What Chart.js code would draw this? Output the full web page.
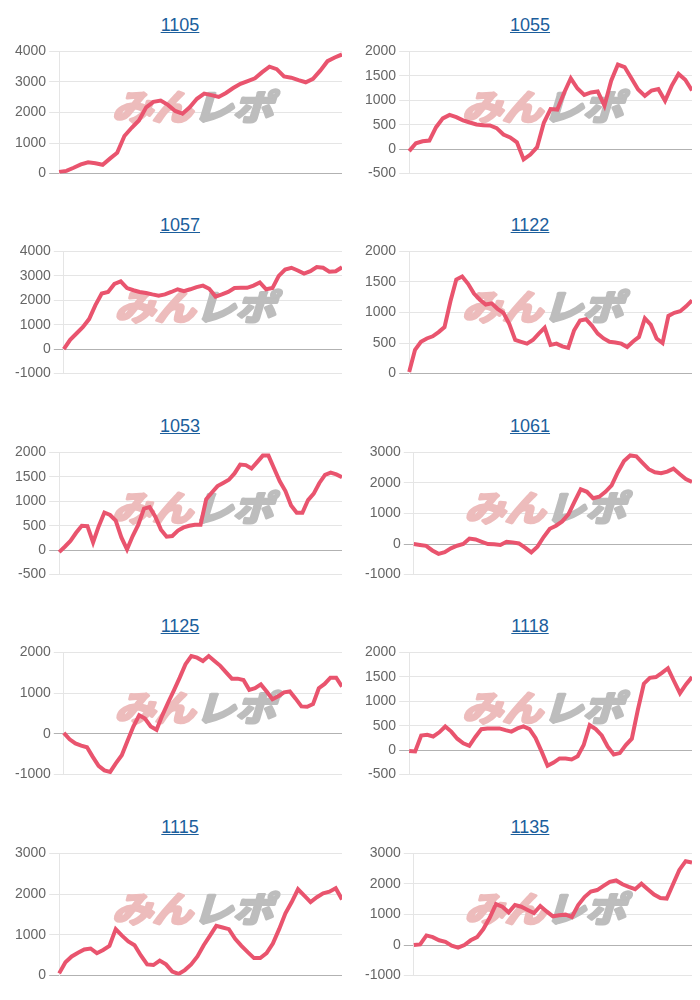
<!DOCTYPE html>
<html>
<head>
<meta charset="utf-8">
<script src="https://cdn.jsdelivr.net/npm/chart.js@4.4.0/dist/chart.umd.min.js"></script>
<style>
body { margin: 0; background: #fff; width: 700px; height: 1000px; position: relative; overflow: hidden; font-family: "Liberation Sans", Arial, sans-serif; }
.cell { position: absolute; width: 350px; height: 200px; }
.cell a { position: absolute; top: 14px; left: 180px; transform: translateX(-50%); font-size: 18px; line-height: 22px; color: #1b5e9c; text-decoration: underline; }
.cell .wrap { position: absolute; top: 40px; left: 12px; width: 330px; height: 145px; }
</style>
</head>
<body>
<script>
const titles = ['1105', '1055', '1057', '1122', '1053', '1061', '1125', '1118', '1115', '1135'];

const d1105 = [50, 90, 190, 300, 370, 340, 290, 490, 680, 1230, 1500, 1740, 2170, 2350, 2390, 2250, 2050, 1960, 2170, 2450, 2620, 2570, 2510, 2640, 2800, 2940, 3030, 3120, 3320, 3500, 3420, 3180, 3140, 3060, 2990, 3100, 3370, 3680, 3800, 3900];
const d1055 = [-40, 120, 160, 175, 450, 630, 700, 655, 590, 545, 505, 490, 485, 430, 300, 240, 140, -210, -110, 40, 540, 820, 810, 1150, 1450, 1240, 1110, 1160, 1180, 890, 1400, 1730, 1680, 1450, 1220, 1090, 1200, 1230, 990, 1300, 1540, 1420, 1200];
const d1057 = [0, 380, 640, 900, 1230, 1800, 2280, 2340, 2670, 2770, 2500, 2410, 2340, 2300, 2240, 2190, 2240, 2340, 2450, 2370, 2450, 2540, 2600, 2470, 2150, 2240, 2340, 2500, 2510, 2510, 2600, 2730, 2450, 2500, 3000, 3260, 3330, 3220, 3090, 3190, 3360, 3330, 3170, 3190, 3350];
const d1122 = [25, 390, 520, 575, 610, 680, 760, 1180, 1540, 1590, 1470, 1310, 1210, 1130, 1150, 1060, 995, 810, 550, 520, 490, 550, 655, 750, 470, 490, 445, 420, 710, 870, 890, 785, 655, 575, 520, 510, 490, 435, 525, 600, 905, 800, 575, 500, 945, 995, 1020, 1100, 1200];
const d1053 = [-40, 70, 190, 355, 500, 490, 160, 490, 770, 720, 605, 260, 15, 290, 520, 850, 880, 685, 420, 275, 290, 400, 465, 500, 520, 520, 1045, 1180, 1310, 1375, 1440, 1570, 1750, 1740, 1670, 1800, 1935, 1935, 1670, 1410, 1210, 915, 765, 765, 1025, 1155, 1375, 1540, 1585, 1550, 1490];
const d1061 = [0, -30, -60, -210, -320, -265, -140, -55, 0, 180, 150, 75, 0, -10, -30, 75, 55, 20, -120, -275, -85, 230, 500, 600, 740, 970, 1390, 1790, 1710, 1500, 1550, 1710, 1920, 2350, 2720, 2900, 2870, 2660, 2450, 2350, 2320, 2370, 2470, 2290, 2130, 2030];
const d1125 = [25, -135, -235, -290, -330, -565, -785, -895, -935, -720, -525, -170, 180, 455, 375, 180, 100, 455, 770, 1070, 1380, 1710, 1910, 1870, 1790, 1910, 1790, 1670, 1510, 1355, 1355, 1320, 1080, 1120, 1215, 1040, 850, 925, 1020, 1040, 865, 675, 665, 730, 1120, 1225, 1380, 1380, 1160];
const d1118 = [-15, -25, 300, 315, 280, 365, 485, 380, 235, 140, 90, 270, 430, 445, 445, 445, 410, 380, 445, 485, 430, 250, -25, -320, -255, -170, -170, -190, -125, 105, 510, 430, 300, 70, -90, -60, 105, 235, 825, 1360, 1480, 1495, 1580, 1675, 1415, 1165, 1345, 1495];
const d1115 = [55, 330, 470, 560, 640, 665, 550, 630, 730, 1140, 980, 840, 745, 495, 275, 260, 370, 275, 100, 40, 135, 275, 470, 745, 980, 1220, 1180, 1140, 905, 730, 575, 430, 430, 550, 785, 1140, 1530, 1805, 2120, 1965, 1805, 1925, 2020, 2060, 2145, 1870];
const d1135 = [0, 20, 315, 260, 155, 105, -20, -85, 0, 155, 260, 525, 890, 1340, 1255, 1070, 1310, 1255, 1150, 1045, 1280, 1100, 940, 975, 995, 920, 1310, 1570, 1750, 1800, 1935, 2070, 2115, 1990, 1905, 1830, 2010, 1830, 1655, 1540, 1520, 1990, 2460, 2745, 2700];

const series = [d1105, d1055, d1057, d1122, d1053, d1061, d1125, d1118, d1115, d1135];
const yMin = [0, -500, -1000, 0, -500, -1000, -1000, -500, 0, -1000];
const yMax = [4000, 2000, 4000, 2000, 2000, 3000, 2000, 2000, 3000, 3000];
const yStep = [1000, 500, 1000, 500, 500, 1000, 1000, 500, 1000, 1000];

// みんレポ logo behind the line
const watermark = {
    id: 'watermark',
    beforeDatasetsDraw(chart) {
        const { ctx, chartArea: a } = chart;
        const cx = (a.left + a.right) / 2 - 4;
        const cy = (a.top + a.bottom) / 2 - 6;
        ctx.save();
        ctx.translate(cx, cy);
        ctx.transform(1.15, 0, -0.3, 1, 0, 0);
        ctx.font = 'bold 35px "Noto Sans CJK JP"';
        ctx.textBaseline = 'middle';
        ctx.textAlign = 'left';
        ctx.lineWidth = 3;
        ctx.lineJoin = 'round';
        const w1 = ctx.measureText('みん').width;
        const w2 = ctx.measureText('レポ').width;
        const x0 = -(w1 + w2) / 2;
        ctx.fillStyle = ctx.strokeStyle = '#edbcbc';
        ctx.strokeText('みん', x0, 0);
        ctx.fillText('みん', x0, 0);
        ctx.fillStyle = ctx.strokeStyle = '#bdbdbd';
        ctx.strokeText('レポ', x0 + w1, 0);
        ctx.fillText('レポ', x0 + w1, 0);
        ctx.restore();
    }
};

series.forEach((values, i) => {
    const col = i % 2;
    const row = Math.floor(i / 2);
    const cell = document.createElement('div');
    cell.className = 'cell';
    cell.style.left = (col * 350) + 'px';
    cell.style.top = Math.round(row * 200.4) + 'px';
    cell.innerHTML = '<a href="#">' + titles[i] + '</a><div class="wrap"><canvas></canvas></div>';
    document.body.appendChild(cell);

    new Chart(cell.querySelector('canvas'), {
        type: 'line',
        data: {
            labels: values.map((v, k) => k + 1),
            datasets: [{
                data: values,
                borderColor: '#e9546e',
                borderWidth: 4,
                pointRadius: 0,
                tension: 0,
                fill: false
            }]
        },
        options: {
            responsive: true,
            maintainAspectRatio: false,
            animation: false,
            plugins: { legend: { display: false }, tooltip: { enabled: false } },
            scales: {
                x: { display: false },
                y: {
                    min: yMin[i],
                    max: yMax[i],
                    ticks: {
                        stepSize: yStep[i],
                        color: '#666',
                        padding: 3,
                        font: { family: '"Liberation Sans", Arial, sans-serif', size: 14 },
                        callback: v => String(v)
                    },
                    grid: {
                        tickLength: 10,
                        color: c => (c.tick && c.tick.value === 0) ? 'rgba(0,0,0,0.3)' : 'rgba(0,0,0,0.1)'
                    },
                    border: { color: 'rgba(0,0,0,0.1)' }
                }
            }
        },
        plugins: [watermark]
    });
});
</script>
</body>
</html>
